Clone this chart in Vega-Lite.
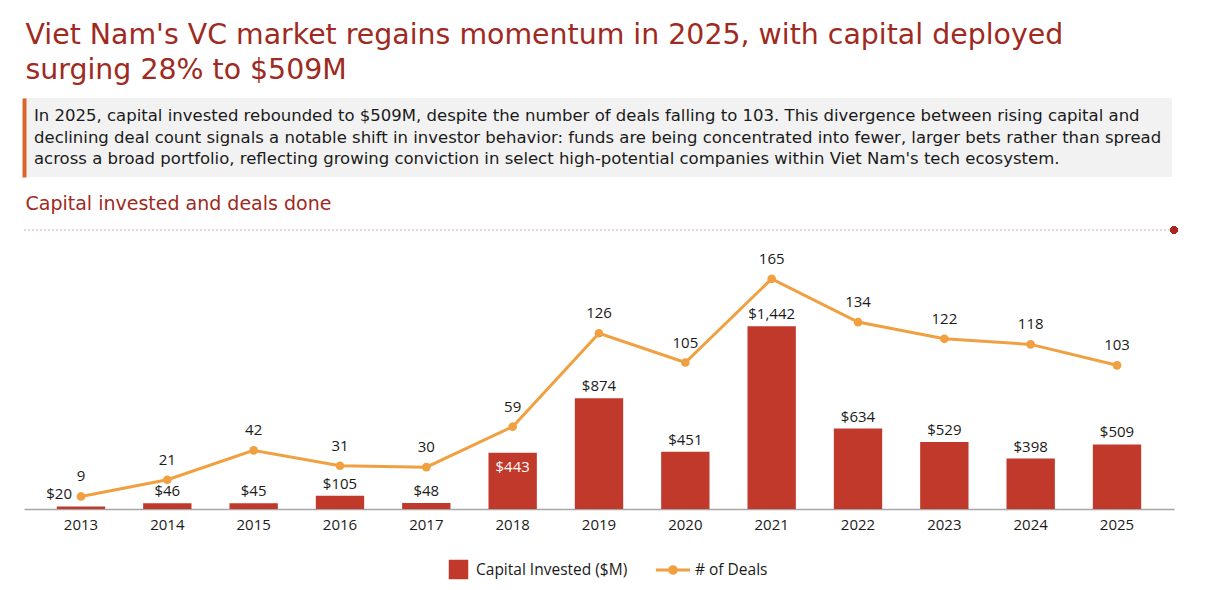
{
  "$schema": "https://vega.github.io/schema/vega-lite/v6.json",
  "background": "white",
  "padding": {"top": 20, "left": 23, "right": 0, "bottom": 0},
  "title": {
    "text": ["Viet Nam's VC market regains momentum in 2025, with capital deployed", "surging 28% to $509M"],
    "anchor": "start",
    "fontSize": 28.4,
    "fontWeight": "normal",
    "font": "DejaVu Sans",
    "color": "#9e2a21",
    "lineHeight": 35,
    "offset": 13,
    "dx": 2
  },
  "spacing": 18,
  "vconcat": [
    {
      "width": 1148,
      "height": 79,
      "view": {"fill": "#f2f2f2", "stroke": null},
      "data": {"values": [
        {"line": 1, "text": "In 2025, capital invested rebounded to $509M, despite the number of deals falling to 103. This divergence between rising capital and"},
        {"line": 2, "text": "declining deal count signals a notable shift in investor behavior: funds are being concentrated into fewer, larger bets rather than spread"},
        {"line": 3, "text": "across a broad portfolio, reflecting growing conviction in select high-potential companies within Viet Nam's tech ecosystem."}
      ]},
      "mark": {"type": "text", "align": "left", "baseline": "middle", "fontSize": 16.5, "font": "DejaVu Sans", "color": "#1a1a1a", "dx": 10},
      "encoding": {
        "x": {"datum": 0, "type": "quantitative", "scale": {"domain": [0, 1]}, "axis": null},
        "y": {"field": "line", "type": "ordinal", "scale": {"type": "point", "padding": 0.82},
          "axis": {"title": null, "labels": false, "ticks": false, "grid": false, "domain": true, "domainColor": "#d9662a", "domainWidth": 4}},
        "text": {"field": "text"}
      }
    },
    {
      "width": 1150,
      "height": 279,
      "title": {"text": "Capital invested and deals done", "anchor": "start", "fontSize": 19, "fontWeight": "normal", "font": "DejaVu Sans", "color": "#9e2a21", "offset": 12, "dx": 2},
      "data": {"values": [
        {"year": "2013", "capital": 20, "deals": 9},
        {"year": "2014", "capital": 46, "deals": 21},
        {"year": "2015", "capital": 45, "deals": 42},
        {"year": "2016", "capital": 105, "deals": 31},
        {"year": "2017", "capital": 48, "deals": 30},
        {"year": "2018", "capital": 443, "deals": 59},
        {"year": "2019", "capital": 874, "deals": 126},
        {"year": "2020", "capital": 451, "deals": 105},
        {"year": "2021", "capital": 1442, "deals": 165},
        {"year": "2022", "capital": 634, "deals": 134},
        {"year": "2023", "capital": 529, "deals": 122},
        {"year": "2024", "capital": 398, "deals": 118},
        {"year": "2025", "capital": 509, "deals": 103}
      ]},
      "layer": [
        {
          "layer": [
            {
              "layer": [
                {
                  "mark": {"type": "bar"},
                  "encoding": {
                    "x": {"field": "year", "type": "ordinal", "scale": {"paddingInner": 0.44, "paddingOuter": 0.38},
                      "axis": {"title": null, "labelFontSize": 15, "labelFont": "Open Sans", "labelColor": "#1a1a1a", "ticks": false, "grid": false, "domainColor": "#a6a6a6", "domainWidth": 1.5, "labelPadding": 8, "labelAngle": 0}},
                    "y": {"field": "capital", "type": "quantitative", "scale": {"domain": [0, 2160]}, "axis": null},
                    "fill": {"datum": "Capital Invested ($M)", "type": "nominal", "scale": {"range": ["#c0392b"]},
                      "legend": {"title": null, "orient": "none", "legendX": 424, "legendY": 461, "symbolType": "square", "symbolSize": 380, "labelFontSize": 15.5, "labelFont": "Open Sans", "labelColor": "#1a1a1a", "labelOffset": 7}}
                  }
                },
                {
                  "transform": [{"filter": "datum.year !== '2013' && datum.year !== '2018'"}],
                  "mark": {"type": "text", "baseline": "middle", "dy": -12, "fontSize": 15, "font": "Open Sans", "color": "#1a1a1a"},
                  "encoding": {
                    "x": {"field": "year", "type": "ordinal"},
                    "y": {"field": "capital", "type": "quantitative"},
                    "text": {"field": "capital", "type": "quantitative", "format": "$,"}
                  }
                },
                {
                  "transform": [{"filter": "datum.year === '2018'"}],
                  "mark": {"type": "text", "baseline": "middle", "dy": 14, "fontSize": 15, "font": "Open Sans", "color": "white"},
                  "encoding": {
                    "x": {"field": "year", "type": "ordinal"},
                    "y": {"field": "capital", "type": "quantitative"},
                    "text": {"field": "capital", "type": "quantitative", "format": "$,"}
                  }
                },
                {
                  "transform": [{"filter": "datum.year === '2013'"}],
                  "mark": {"type": "text", "baseline": "middle", "align": "right", "dx": -9, "dy": -12, "fontSize": 15, "font": "Open Sans", "color": "#1a1a1a"},
                  "encoding": {
                    "x": {"field": "year", "type": "ordinal"},
                    "y": {"field": "capital", "type": "quantitative"},
                    "text": {"field": "capital", "type": "quantitative", "format": "$,"}
                  }
                }
              ]
            },
            {
              "layer": [
                {
                  "mark": {"type": "line", "strokeWidth": 3},
                  "encoding": {
                    "x": {"field": "year", "type": "ordinal"},
                    "y": {"field": "deals", "type": "quantitative", "scale": {"domain": [0, 198]}, "axis": null},
                    "stroke": {"datum": "# of Deals", "type": "nominal", "scale": {"range": ["#f0a040"]},
                      "legend": {"title": null, "orient": "none", "legendX": 638, "legendY": 461, "symbolType": "M-1.8,0H1.8M-0.35,0A0.35,0.35 0 1,0 0.35,0A0.35,0.35 0 1,0 -0.35,0", "symbolSize": 361, "symbolStrokeWidth": 3, "labelFontSize": 15.5, "labelFont": "Open Sans", "labelColor": "#1a1a1a", "labelOffset": 11,
                        "encode": {"symbols": {"update": {"fill": {"value": "#f0a040"}, "stroke": {"value": "#f0a040"}, "strokeWidth": {"value": 3}}}}}}
                  }
                },
                {
                  "mark": {"type": "point", "filled": true, "size": 75, "color": "#f0a040", "opacity": 1},
                  "encoding": {
                    "x": {"field": "year", "type": "ordinal"},
                    "y": {"field": "deals", "type": "quantitative"}
                  }
                },
                {
                  "mark": {"type": "text", "baseline": "middle", "dy": -20, "fontSize": 15, "font": "Open Sans", "color": "#1a1a1a"},
                  "encoding": {
                    "x": {"field": "year", "type": "ordinal"},
                    "y": {"field": "deals", "type": "quantitative"},
                    "text": {"field": "deals", "type": "quantitative"}
                  }
                }
              ]
            }
          ],
          "resolve": {"scale": {"y": "independent"}}
        },
        {
          "mark": {"type": "rule", "strokeDash": [2, 2], "color": "#e8d6d6", "strokeWidth": 1},
          "encoding": {
            "y": {"datum": 1, "type": "quantitative", "scale": {"domain": [0, 1]}, "axis": null}
          }
        },
        {
          "mark": {"type": "point", "filled": true, "size": 50, "color": "#a8271f", "opacity": 1},
          "encoding": {
            "x": {"datum": 1, "type": "quantitative", "scale": {"domain": [0, 1]}, "axis": null},
            "y": {"datum": 1, "type": "quantitative", "scale": {"domain": [0, 1]}, "axis": null}
          }
        }
      ],
      "resolve": {"scale": {"x": "independent", "y": "independent"}}
    }
  ],
  "config": {
    "font": "Open Sans",
    "view": {"stroke": null}
  }
}
